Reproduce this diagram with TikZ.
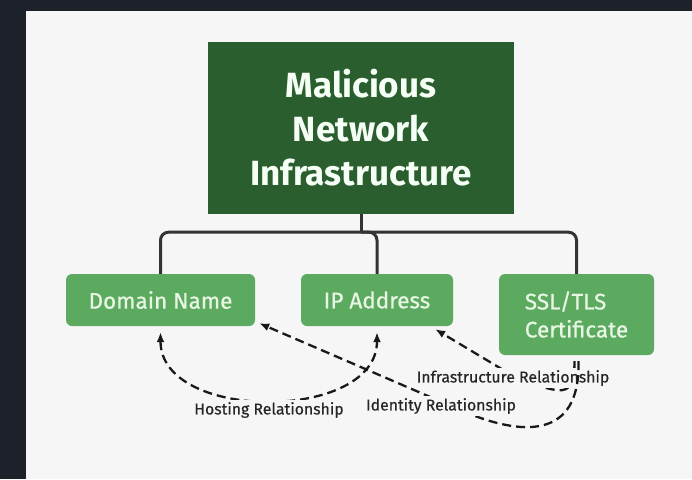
\documentclass[tikz,border=0pt]{standalone}
\usepackage{fontspec}
\setmainfont{Fira Sans}
\newfontfamily\medfont[FakeBold=0.8]{Fira Sans}
\newfontfamily\labfont[FakeBold=0.4]{Fira Sans}
\usetikzlibrary{arrows.meta,calc}
\definecolor{bgdark}{HTML}{1D2129}
\definecolor{panel}{HTML}{F6F6F6}
\definecolor{maingreen}{HTML}{2B5E2F}
\definecolor{childgreen}{HTML}{5BAA5F}
\definecolor{childtext}{HTML}{E8F6E4}
\definecolor{linegray}{HTML}{333333}
\begin{document}
\begin{tikzpicture}[x=1pt,y=-1pt,
  mainbox/.style={fill=maingreen, text=white!96!green, inner sep=0pt, align=center,
    font=\bfseries\fontsize{35}{44}\selectfont},
  childbox/.style={fill=childgreen, rounded corners=6pt, text=childtext, inner sep=0pt,
    font=\medfont\fontsize{22.5}{28}\selectfont},
  tree/.style={draw=linegray, line width=3pt},
  rel/.style={draw=black!90, line width=2.3pt, dash pattern=on 9pt off 5pt},
  tip/.tip={Latex[length=10pt,width=8pt]},
  rellabel/.style={fill=panel, inner sep=2pt, text=black!85, font=\labfont\fontsize{15.8}{18}\selectfont}]
\fill[bgdark] (0,0) rectangle (692,479);
\fill[panel] (26,11) rectangle (692,479);
\useasboundingbox (0,0) rectangle (692,479);

\node[mainbox, minimum width=306pt, minimum height=172pt] (main) at (361,128) {Malicious\\Network\\Infrastructure};
\node[childbox, minimum width=189pt, minimum height=52pt] (dom) at (160.5,300) {Domain Name};
\node[childbox, minimum width=152pt, minimum height=52pt] (ip) at (377,300) {IP Address};
\node[childbox, minimum width=155pt, minimum height=81pt, align=left] (ssl) at (576.5,314.5) {SSL/TLS\\Certificate};

\coordinate (j) at ($(main.south)+(0,18)$);
\draw[tree] (main.south) -- (j);
\draw[tree, rounded corners=8pt] (dom.north) |- (j) -| (ssl.north);
\draw[tree, rounded corners=8pt] (ip.north) |- (j);

% Hosting
\draw[rel, tip-tip] ($(dom.south)+(0,6)$) .. controls +(0,90) and +(0,90) .. ($(ip.south)+(0,6)$);
\node[rellabel] (hl) at (269,410) {Hosting Relationship};

% Infrastructure
\draw[rel, -tip] ($(ssl.south)+(-2,6)$) .. controls +(0,40) and (560,392) .. (520,380) -- ($(ip.south east)+(-18,3)$);
\node[rellabel] (il) at (513,378) {Infrastructure Relationship};

% Identity
\draw[rel, -tip] ($(ssl.south)+(2,6)$) .. controls +(2,80) and (520,435) .. (465,412) -- ($(dom.south east)+(4,-3)$);
\node[rellabel] (idl) at (441,406) {Identity Relationship};
\end{tikzpicture}
\end{document}
